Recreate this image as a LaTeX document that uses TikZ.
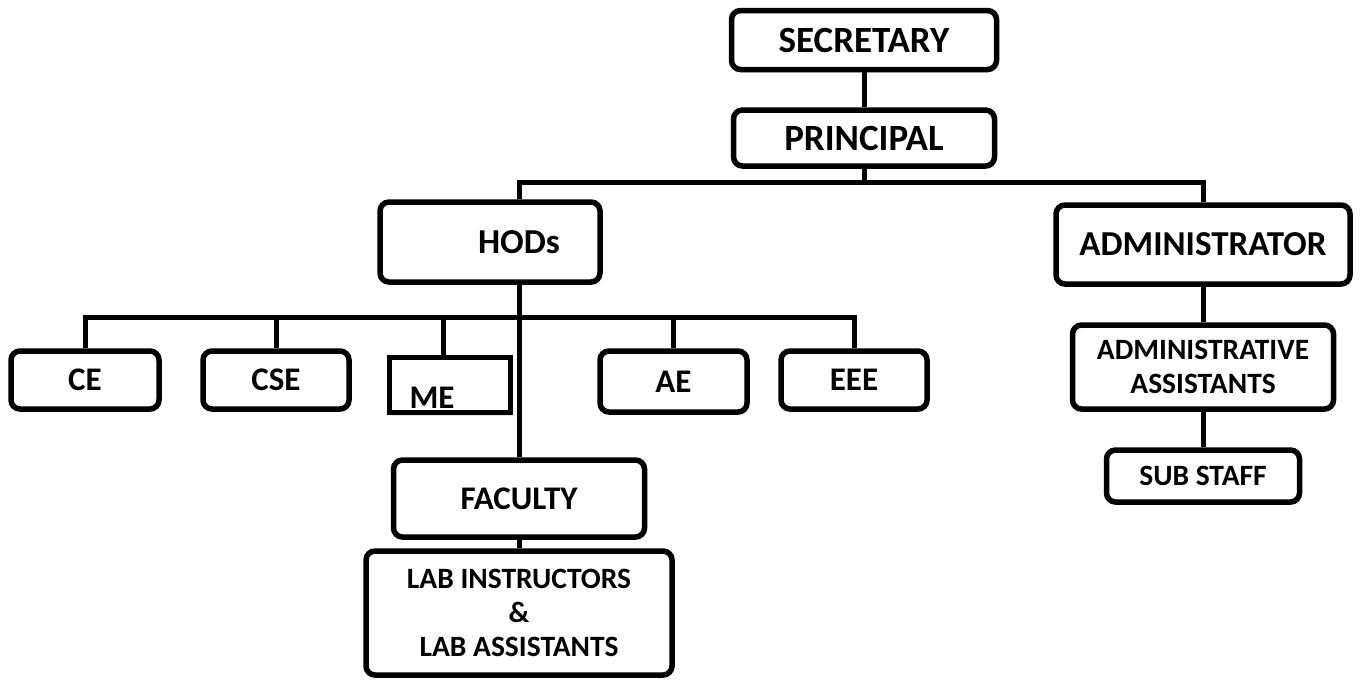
\documentclass[tikz,border=0pt]{standalone}
\usepackage{fontspec}
\setmainfont{Carlito}
\usetikzlibrary{shadows}

\begin{document}
\begin{tikzpicture}[x=1pt,y=-1pt]
	\tikzstyle{every node}+=[font=\bfseries]
	\tikzstyle{post}=[draw, line width=5.5pt, rounded corners=9pt, fill=white, align=center, inner sep=3pt,
		drop shadow={opacity=0.22, shadow xshift=1pt, shadow yshift=-3pt}]
	\tikzstyle{huge}=[font=\fontsize{37}{40}\selectfont\bfseries]
	\tikzstyle{big}=[font=\fontsize{35}{40}\selectfont\bfseries]
	\tikzstyle{mid}=[font=\fontsize{33}{36}\selectfont\bfseries]
	\tikzstyle{small}=[font=\fontsize{29.5}{34}\selectfont\bfseries]
	\tikzstyle{link}=[line width=5pt]
	\useasboundingbox (0,0) rectangle (1360,681);
	% top of the chart
	\node [post, huge, minimum width=265, minimum height=59] (sec) at (864,40) {SECRETARY};
	\node [post, huge, minimum width=261, minimum height=56] (prin) at (864,138) {PRINCIPAL};
	\coordinate (topbus) at (864,182);
	\node [post, big, minimum width=220, minimum height=80] (hod) at (490,242) {\hspace*{58pt}HODs};
	\node [post, big, minimum width=294, minimum height=79] (adm) at (1203,244.5) {ADMINISTRATOR};
	% administration side
	\node [post, small, minimum width=261, minimum height=84] (adas) at (1203,367) {ADMINISTRATIVE\\ASSISTANTS};
	\node [post, small, minimum width=193, minimum height=52] (sub) at (1203,476) {SUB STAFF};
	% departments
	\node [post, mid, minimum width=148, minimum height=58] (ce) at (85,380) {CE};
	\node [post, mid, minimum width=146, minimum height=58] (cse) at (276,380) {CSE};
	\node [post, mid, rounded corners=0pt, line width=5pt, drop shadow={opacity=0}, minimum width=121, minimum height=55,
		text height=46pt, text depth=0pt, inner sep=2pt] (me) at (450,385) {ME\hspace*{36pt}};
	\node [post, mid, minimum width=147, minimum height=61] (ae) at (673.5,381.5) {AE};
	\node [post, mid, minimum width=146, minimum height=58] (eee) at (854,380) {EEE};
	\coordinate (deptbus) at (519,317);
	% academic side
	\node [post, mid, minimum width=251, minimum height=77] (fac) at (519,498.5) {FACULTY};
	\node [post, small, minimum width=306, minimum height=124] (lab) at (519,613) {LAB INSTRUCTORS\\\&\\LAB ASSISTANTS};
	% connectors
	\draw [link] (sec) -- (prin);
	\draw [link] (prin) -- (topbus);
	\draw [link] ([xshift=29]hod.north) |- (topbus) -| (adm.north);
	\draw [link] (adm) -- (adas);
	\draw [link] (adas) -- (sub);
	\draw [link] ([xshift=29]hod.south) -- (fac.north);
	\draw [link] (fac) -- (lab);
	\draw [link] (ce.north) -- (ce.north |- deptbus) -- (eee.north |- deptbus) -- (eee.north);
	\draw [link] (cse.north) -- (cse.north |- deptbus);
	\draw [link] ([xshift=-7]me.north) -- ([xshift=-7]me.north |- deptbus);
	\draw [link] (ae.north) -- (ae.north |- deptbus);
\end{tikzpicture}
\end{document}
